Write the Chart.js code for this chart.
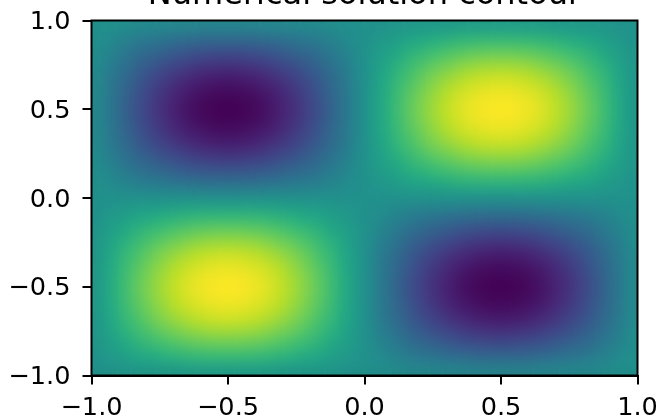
<!DOCTYPE html>
<html><head><meta charset="utf-8">
<script src="https://cdn.jsdelivr.net/npm/chart.js@4"></script>
<style>
html,body{margin:0;padding:0;background:#fff;overflow:hidden}
#wrap{position:absolute;left:0;top:-40px;width:662px;height:459px}
</style></head><body>
<div id="wrap"><canvas id="c" width="662" height="459"></canvas></div>
<script>
const titleText = "Numerical solution contour";
const tickStep = 0.5;
const xCenters = [-0.976,-0.929,-0.881,-0.833,-0.786,-0.738,-0.69,-0.643,-0.595,-0.548,-0.5,-0.452,-0.405,-0.357,-0.31,-0.262,-0.214,-0.167,-0.119,-0.071,-0.024,0.024,0.071,0.119,0.167,0.214,0.262,0.31,0.357,0.405,0.452,0.5,0.548,0.595,0.643,0.69,0.738,0.786,0.833,0.881,0.929,0.976];
const yCenters = [0.964,0.893,0.821,0.75,0.679,0.607,0.536,0.464,0.393,0.321,0.25,0.179,0.107,0.036,-0.036,-0.107,-0.179,-0.25,-0.321,-0.393,-0.464,-0.536,-0.607,-0.679,-0.75,-0.821,-0.893,-0.964];
const yHalf = 0.0357;
const row01 = [-1,-2,-4,-6,-7,-8,-9,-10,-11,-11,-11,-11,-11,-10,-9,-8,-7,-6,-4,-2,-1,1,2,4,6,7,8,9,10,11,11,11,11,11,10,9,8,7,6,4,2,1];
const row02 = [-2,-7,-12,-17,-21,-24,-27,-30,-32,-33,-33,-33,-32,-30,-27,-24,-21,-17,-12,-7,-2,2,7,12,17,21,24,27,30,32,33,33,33,32,30,27,24,21,17,12,7,2];
const row03 = [-4,-12,-19,-27,-33,-39,-44,-48,-51,-53,-53,-53,-51,-48,-44,-39,-33,-27,-19,-12,-4,4,12,19,27,33,39,44,48,51,53,53,53,51,48,44,39,33,27,19,12,4];
const row04 = [-5,-16,-26,-35,-44,-52,-58,-64,-68,-70,-71,-70,-68,-64,-58,-52,-44,-35,-26,-16,-5,5,16,26,35,44,52,58,64,68,70,71,70,68,64,58,52,44,35,26,16,5];
const row05 = [-6,-19,-31,-42,-53,-62,-70,-76,-81,-84,-85,-84,-81,-76,-70,-62,-53,-42,-31,-19,-6,6,19,31,42,53,62,70,76,81,84,85,84,81,76,70,62,53,42,31,19,6];
const row06 = [-7,-21,-34,-47,-59,-69,-78,-85,-90,-93,-94,-93,-90,-85,-78,-69,-59,-47,-34,-21,-7,7,21,34,47,59,69,78,85,90,93,94,93,90,85,78,69,59,47,34,21,7];
const row07 = [-7,-22,-36,-50,-62,-73,-82,-90,-95,-98,-99,-98,-95,-90,-82,-73,-62,-50,-36,-22,-7,7,22,36,50,62,73,82,90,95,98,99,98,95,90,82,73,62,50,36,22,7];
const row08 = [-7,-22,-36,-50,-62,-73,-82,-90,-95,-98,-99,-98,-95,-90,-82,-73,-62,-50,-36,-22,-7,7,22,36,50,62,73,82,90,95,98,99,98,95,90,82,73,62,50,36,22,7];
const row09 = [-7,-21,-34,-47,-59,-69,-78,-85,-90,-93,-94,-93,-90,-85,-78,-69,-59,-47,-34,-21,-7,7,21,34,47,59,69,78,85,90,93,94,93,90,85,78,69,59,47,34,21,7];
const row10 = [-6,-19,-31,-42,-53,-62,-70,-76,-81,-84,-85,-84,-81,-76,-70,-62,-53,-42,-31,-19,-6,6,19,31,42,53,62,70,76,81,84,85,84,81,76,70,62,53,42,31,19,6];
const row11 = [-5,-16,-26,-35,-44,-52,-58,-64,-68,-70,-71,-70,-68,-64,-58,-52,-44,-35,-26,-16,-5,5,16,26,35,44,52,58,64,68,70,71,70,68,64,58,52,44,35,26,16,5];
const row12 = [-4,-12,-19,-27,-33,-39,-44,-48,-51,-53,-53,-53,-51,-48,-44,-39,-33,-27,-19,-12,-4,4,12,19,27,33,39,44,48,51,53,53,53,51,48,44,39,33,27,19,12,4];
const row13 = [-2,-7,-12,-17,-21,-24,-27,-30,-32,-33,-33,-33,-32,-30,-27,-24,-21,-17,-12,-7,-2,2,7,12,17,21,24,27,30,32,33,33,33,32,30,27,24,21,17,12,7,2];
const row14 = [-1,-2,-4,-6,-7,-8,-9,-10,-11,-11,-11,-11,-11,-10,-9,-8,-7,-6,-4,-2,-1,1,2,4,6,7,8,9,10,11,11,11,11,11,10,9,8,7,6,4,2,1];
const row15 = [1,2,4,6,7,8,9,10,11,11,11,11,11,10,9,8,7,6,4,2,1,-1,-2,-4,-6,-7,-8,-9,-10,-11,-11,-11,-11,-11,-10,-9,-8,-7,-6,-4,-2,-1];
const row16 = [2,7,12,17,21,24,27,30,32,33,33,33,32,30,27,24,21,17,12,7,2,-2,-7,-12,-17,-21,-24,-27,-30,-32,-33,-33,-33,-32,-30,-27,-24,-21,-17,-12,-7,-2];
const row17 = [4,12,19,27,33,39,44,48,51,53,53,53,51,48,44,39,33,27,19,12,4,-4,-12,-19,-27,-33,-39,-44,-48,-51,-53,-53,-53,-51,-48,-44,-39,-33,-27,-19,-12,-4];
const row18 = [5,16,26,35,44,52,58,64,68,70,71,70,68,64,58,52,44,35,26,16,5,-5,-16,-26,-35,-44,-52,-58,-64,-68,-70,-71,-70,-68,-64,-58,-52,-44,-35,-26,-16,-5];
const row19 = [6,19,31,42,53,62,70,76,81,84,85,84,81,76,70,62,53,42,31,19,6,-6,-19,-31,-42,-53,-62,-70,-76,-81,-84,-85,-84,-81,-76,-70,-62,-53,-42,-31,-19,-6];
const row20 = [7,21,34,47,59,69,78,85,90,93,94,93,90,85,78,69,59,47,34,21,7,-7,-21,-34,-47,-59,-69,-78,-85,-90,-93,-94,-93,-90,-85,-78,-69,-59,-47,-34,-21,-7];
const row21 = [7,22,36,50,62,73,82,90,95,98,99,98,95,90,82,73,62,50,36,22,7,-7,-22,-36,-50,-62,-73,-82,-90,-95,-98,-99,-98,-95,-90,-82,-73,-62,-50,-36,-22,-7];
const row22 = [7,22,36,50,62,73,82,90,95,98,99,98,95,90,82,73,62,50,36,22,7,-7,-22,-36,-50,-62,-73,-82,-90,-95,-98,-99,-98,-95,-90,-82,-73,-62,-50,-36,-22,-7];
const row23 = [7,21,34,47,59,69,78,85,90,93,94,93,90,85,78,69,59,47,34,21,7,-7,-21,-34,-47,-59,-69,-78,-85,-90,-93,-94,-93,-90,-85,-78,-69,-59,-47,-34,-21,-7];
const row24 = [6,19,31,42,53,62,70,76,81,84,85,84,81,76,70,62,53,42,31,19,6,-6,-19,-31,-42,-53,-62,-70,-76,-81,-84,-85,-84,-81,-76,-70,-62,-53,-42,-31,-19,-6];
const row25 = [5,16,26,35,44,52,58,64,68,70,71,70,68,64,58,52,44,35,26,16,5,-5,-16,-26,-35,-44,-52,-58,-64,-68,-70,-71,-70,-68,-64,-58,-52,-44,-35,-26,-16,-5];
const row26 = [4,12,19,27,33,39,44,48,51,53,53,53,51,48,44,39,33,27,19,12,4,-4,-12,-19,-27,-33,-39,-44,-48,-51,-53,-53,-53,-51,-48,-44,-39,-33,-27,-19,-12,-4];
const row27 = [2,7,12,17,21,24,27,30,32,33,33,33,32,30,27,24,21,17,12,7,2,-2,-7,-12,-17,-21,-24,-27,-30,-32,-33,-33,-33,-32,-30,-27,-24,-21,-17,-12,-7,-2];
const row28 = [1,2,4,6,7,8,9,10,11,11,11,11,11,10,9,8,7,6,4,2,1,-1,-2,-4,-6,-7,-8,-9,-10,-11,-11,-11,-11,-11,-10,-9,-8,-7,-6,-4,-2,-1];
const rows = [row01,row02,row03,row04,row05,row06,row07,row08,row09,row10,row11,row12,row13,row14,row15,row16,row17,row18,row19,row20,row21,row22,row23,row24,row25,row26,row27,row28];

const viridis = [[68,1,84],[72,36,117],[65,68,135],[53,95,141],[42,120,142],[33,145,140],[34,168,132],[68,191,112],[122,209,81],[189,223,38],[253,231,37]];
function colorOf(v){
  const t = Math.max(0,Math.min(1,(v+100)/200))*(viridis.length-1);
  const i = Math.min(viridis.length-2,Math.floor(t)), f = t-i;
  const c = viridis[i].map((a,k)=>Math.round(a+(viridis[i+1][k]-a)*f));
  return `rgb(${c[0]},${c[1]},${c[2]})`;
}
const datasets = rows.map((vals,r)=>({
  data: vals.map((v,i)=>({x:xCenters[i],y:[yCenters[r]-yHalf,yCenters[r]+yHalf]})),
  backgroundColor: vals.map(colorOf),
  barPercentage:1, categoryPercentage:1, grouped:false, borderWidth:0
}));
// Smooth the drawn cells (as an image display would), then draw the axes box on top.
const frame = {id:'frame',afterDatasetsDraw(ch){
  const a=ch.chartArea,g=ch.ctx,w=a.right-a.left,h=a.bottom-a.top;
  const off=document.createElement('canvas');off.width=Math.ceil(w);off.height=Math.ceil(h);
  off.getContext('2d').drawImage(ch.canvas,a.left,a.top,w,h,0,0,w,h);
  g.save();
  g.beginPath();g.rect(a.left,a.top,w,h);g.clip();
  g.filter='blur(6px)';
  g.drawImage(off,a.left,a.top,w,h);
  g.restore();
  g.save();g.strokeStyle='#000';g.lineWidth=2;
  g.strokeRect(a.left,a.top,w,h);g.restore();
}};
const fmt = v => { const s=Math.abs(v).toFixed(1); return v<-1e-9?'\u2212'+s:s; };
const tickFont = {family:'"DejaVu Sans"',size:25.6};
new Chart(document.getElementById('c'),{
  type:'bar',
  data:{datasets},
  plugins:[frame],
  options:{
    responsive:false,animation:false,devicePixelRatio:1,
    layout:{padding:{left:0,right:24.5,top:0,bottom:0}},
    plugins:{
      legend:{display:false},tooltip:{enabled:false},
      title:{display:true,text:titleText,fullSize:false,color:'#000',
        font:{family:'"DejaVu Sans"',size:32,weight:'normal',lineHeight:1.2},
        padding:{top:16.2,bottom:5.9}}
    },
    scales:{
      x:{type:'linear',min:-1,max:1,offset:false,
        grid:{offset:false,drawOnChartArea:false,color:'#000',lineWidth:2,tickLength:9,tickColor:'#000',tickWidth:2},
        border:{color:'#000',width:2},
        ticks:{stepSize:tickStep,padding:8,color:'#000',font:tickFont,maxRotation:0,autoSkip:false,callback:fmt},
        afterFit(s){s.height=43.5;s.paddingRight=0;s.paddingLeft=0;}},
      y:{type:'linear',min:-1,max:1,
        grid:{drawOnChartArea:false,color:'#000',lineWidth:2,tickLength:9,tickColor:'#000',tickWidth:2},
        border:{color:'#000',width:2},
        ticks:{stepSize:tickStep,padding:12,labelOffset:2,color:'#000',font:tickFont,autoSkip:false,callback:fmt},
        afterFit(s){s.width=91.5;}}
    }
  }
});
</script></body></html>
